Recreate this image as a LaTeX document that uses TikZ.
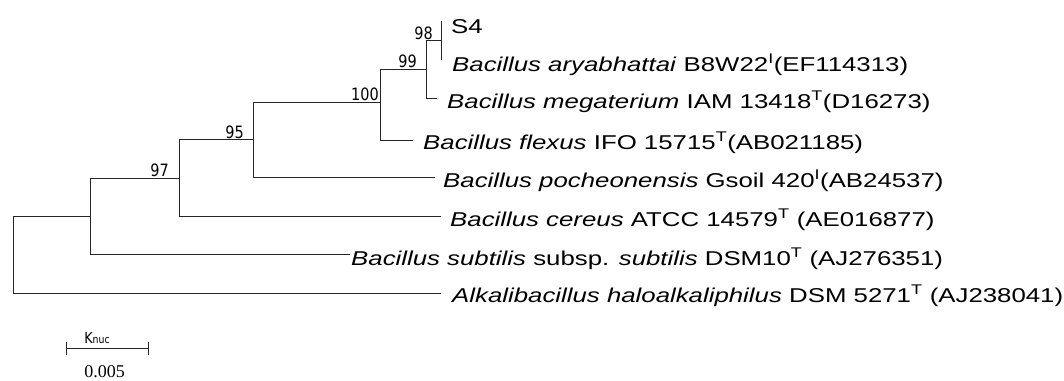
\documentclass[tikz,border=0pt]{standalone}
\usepackage{fontspec}
\setmainfont{Liberation Sans}[FakeStretch=1.29]
\newfontfamily\bootfont{DejaVu Sans}[FakeStretch=0.85]
\newfontfamily\barfont{Liberation Serif}
\begin{document}
\begin{tikzpicture}[x=1pt,y=-1pt,
  branch/.style={draw=black!85, line width=1pt},
  leaf/.style={anchor=base west, inner sep=0pt, font=\fontsize{20}{24}\selectfont},
  boot/.style={anchor=base east, inner sep=0pt, font=\bootfont\fontsize{17}{19}\selectfont}]
\useasboundingbox (0,0) rectangle (1064,380);
% internal nodes
\coordinate (r)    at (13,254.5);
\coordinate (nA)   at (90,216);
\coordinate (n97)  at (179,178);
\coordinate (n95)  at (253,139.5);
\coordinate (n100) at (380,102);
\coordinate (n99)  at (426,69);
\coordinate (n98)  at (441,40.5);
% leaf tips
\coordinate (tS4)  at (441,21);
\coordinate (tAry) at (441,60);
\coordinate (tMeg) at (437,98.5);
\coordinate (tFle) at (413,140);
\coordinate (tPoc) at (435,177.5);
\coordinate (tCer) at (441,216);
\coordinate (tSub) at (350,254.5);
\coordinate (tAlk) at (441,293);
% branches
\draw[branch] (r) |- (nA);
\draw[branch] (r) |- (tAlk);
\draw[branch] (nA) |- (n97);
\draw[branch] (nA) |- (tSub);
\draw[branch] (n97) |- (n95);
\draw[branch] (n97) |- (tCer);
\draw[branch] (n95) |- (n100);
\draw[branch] (n95) |- (tPoc);
\draw[branch] (n100) |- (n99);
\draw[branch] (n100) |- (tFle);
\draw[branch] (n99) |- (n98);
\draw[branch] (n99) |- (tMeg);
\draw[branch] (n98) |- (tS4);
\draw[branch] (n98) |- (tAry);
% leaf labels
\node[leaf] (lS4)  at (451,33)  {S4};
\node[leaf] (lAry) at (452,71)  {\textit{Bacillus aryabhattai} B8W22\textsuperscript{I}(EF114313)};
\node[leaf] (lMeg) at (447,108) {\textit{Bacillus megaterium} IAM 13418\textsuperscript{T}(D16273)};
\node[leaf] (lFle) at (423,149) {\textit{Bacillus flexus} IFO 15715\textsuperscript{T}(AB021185)};
\node[leaf] (lPoc) at (443,187) {\textit{Bacillus pocheonensis} Gsoil 420\textsuperscript{I}(AB24537)};
\node[leaf] (lCer) at (450,226) {\textit{Bacillus cereus} ATCC 14579\textsuperscript{T} (AE016877)};
\node[leaf] (lSub) at (351,265) {\textit{Bacillus subtilis} subsp. \textit{subtilis} DSM10\textsuperscript{T} (AJ276351)};
\node[leaf] (lAlk) at (452,302) {\textit{Alkalibacillus haloalkaliphilus} DSM 5271\textsuperscript{T} (AJ238041)};
% bootstrap values
\node[boot] (b98)  at (433,39)  {98};
\node[boot] (b99)  at (417,67.5){99};
\node[boot] (b100) at (379,100) {100};
\node[boot] (b95)  at (244,138) {95};
\node[boot] (b97)  at (169,176.5) {97};
% scale bar
\coordinate (sbL) at (66,348);
\coordinate (sbR) at (148,348);
\coordinate (sbLt) at (66,342);
\coordinate (sbLb) at (66,355);
\coordinate (sbRt) at (148,342);
\coordinate (sbRb) at (148,355);
\draw[branch] (sbL) -- (sbR);
\draw[branch] (sbLt) -- (sbLb);
\draw[branch] (sbRt) -- (sbRb);
\node[anchor=base, inner sep=0pt, font=\bootfont] (kn) at (97,343.5) {\fontsize{15}{17}\selectfont K\fontsize{11}{13}\selectfont nuc};
\node[anchor=base, inner sep=0pt, font=\barfont\fontsize{18}{20}\selectfont] (sbv) at (104.5,377.5) {0.005};
\end{tikzpicture}
\end{document}
